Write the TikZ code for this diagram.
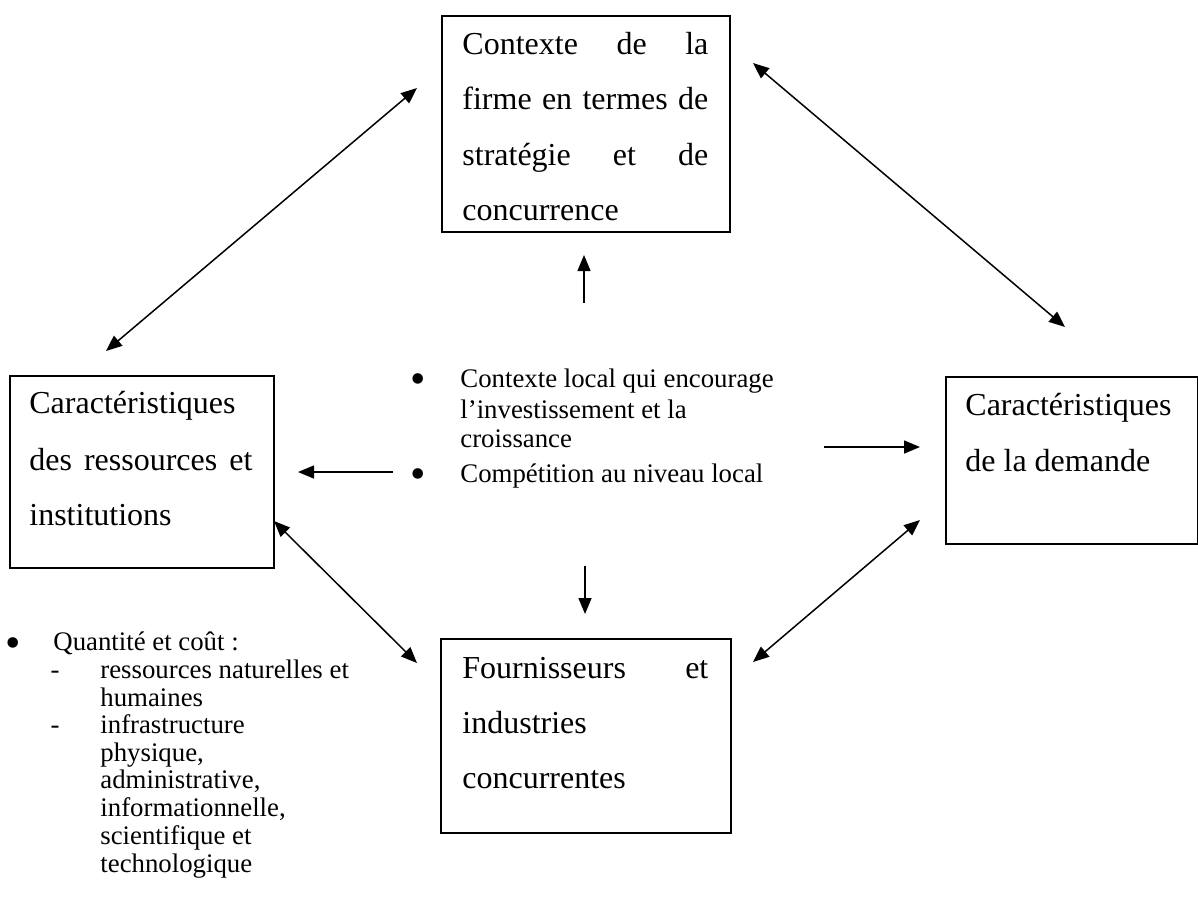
\documentclass[tikz,border=0pt]{standalone}
\usepackage{fontspec}
\setmainfont{Liberation Serif}
\usetikzlibrary{arrows.meta}
\begin{document}
\begin{tikzpicture}[x=0.5pt,y=-0.5pt,
  box/.style={draw, line width=1pt, inner sep=0pt, anchor=north west},
  bigtxt/.style={font=\fontsize{16}{20}\selectfont, anchor=base west, inner sep=0pt},
  smtxt/.style={font=\fontsize{13.4}{16}\selectfont, anchor=base west, inner sep=0pt},
  bul/.style={font=\fontsize{22}{22}\selectfont, anchor=center, inner sep=0pt},
  dsh/.style={font=\fontsize{13.4}{16}\selectfont, anchor=base, inner sep=0pt},
  arr/.style={line width=0.75pt, -{Triangle[length=8pt,width=6.5pt]}},
  darr/.style={line width=0.75pt, {Triangle[length=8pt,width=6.5pt]}-{Triangle[length=8pt,width=6.5pt]}}]
\useasboundingbox (0,0) rectangle (1198,901);

% boxes
\node[box, minimum width=144pt, minimum height=108pt] (ctx) at (441,15) {};
\node[box, minimum width=132pt, minimum height=96pt] (res) at (9,375) {};
\node[box, minimum width=126pt, minimum height=83.5pt] (dem) at (945,376) {};
\node[box, minimum width=145pt, minimum height=97pt] (fou) at (440,638) {};

% top box text
\node[bigtxt] (ctx1) at (462,54) {\hbox to 123pt{Contexte\hfill de\hfill la}};
\node[bigtxt] (ctx2) at (462,109) {\hbox to 123pt{firme\hfill en\hfill termes\hfill de}};
\node[bigtxt] (ctx3) at (462,165) {\hbox to 123pt{stratégie\hfill et\hfill de}};
\node[bigtxt] (ctx4) at (462,220) {concurrence};

% left box text
\node[bigtxt] (res1) at (29,413) {Caractéristiques};
\node[bigtxt] (res2) at (29,470) {\hbox to 111.5pt{des\hfill ressources\hfill et}};
\node[bigtxt] (res3) at (29,525) {institutions};

% right box text
\node[bigtxt] (dem1) at (965,415) {Caractéristiques};
\node[bigtxt] (dem2) at (965,471) {de la demande};

% bottom box text
\node[bigtxt] (fou1) at (462,678) {\hbox to 123pt{Fournisseurs\hfill et}};
\node[bigtxt] (fou2) at (462,733) {industries};
\node[bigtxt] (fou3) at (462,788) {concurrentes};

% centre bullets
\node[bul] (cb1) at (418,384) {•};
\node[bul] (cb2) at (418,479) {•};
\node[smtxt] (c1) at (460,387) {Contexte local qui encourage};
\node[smtxt] (c2) at (460,418) {l’investissement et la};
\node[smtxt] (c3) at (460,447) {croissance};
\node[smtxt] (c4) at (460,482) {Compétition au niveau local};

% lower-left list
\node[bul] (lb1) at (13,648) {•};
\node[smtxt] (q0) at (53,650) {Quantité et coût :};
\node[dsh] (ld1) at (55,678) {-};
\node[dsh] (ld2) at (55,733) {-};
\node[smtxt] (q1) at (100,678) {ressources naturelles et};
\node[smtxt] (q2) at (100,706) {humaines};
\node[smtxt] (q3) at (100,733) {infrastructure};
\node[smtxt] (q4) at (100,761) {physique,};
\node[smtxt] (q5) at (100,788) {administrative,};
\node[smtxt] (q6) at (100,816) {informationnelle,};
\node[smtxt] (q7) at (100,844) {scientifique et};
\node[smtxt] (q8) at (100,872) {technologique};

% arrow end points
\coordinate (a1) at (106,351);
\coordinate (a2) at (417,88);
\coordinate (b1) at (753,63);
\coordinate (b2) at (1065,327);
\coordinate (u1) at (584,303);
\coordinate (u2) at (584,255);
\coordinate (l1) at (393,472);
\coordinate (l2) at (298,472);
\coordinate (r1) at (824,447);
\coordinate (r2) at (920,447);
\coordinate (d1) at (585,566);
\coordinate (d2) at (585,614);
\coordinate (e1) at (274,521);
\coordinate (e2) at (417,663);
\coordinate (f1) at (920,520);
\coordinate (f2) at (753,662);

\draw[darr] (a1) -- (a2);
\draw[darr] (b1) -- (b2);
\draw[arr] (u1) -- (u2);
\draw[arr] (l1) -- (l2);
\draw[arr] (r1) -- (r2);
\draw[arr] (d1) -- (d2);
\draw[darr] (e1) -- (e2);
\draw[darr] (f1) -- (f2);
\end{tikzpicture}
\end{document}
